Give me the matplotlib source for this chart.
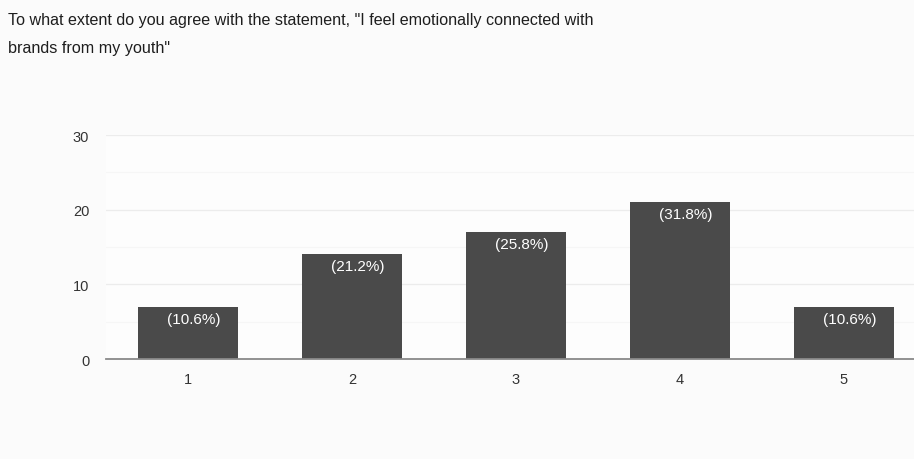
import matplotlib
matplotlib.use("Agg")
import matplotlib.pyplot as plt

categories = ["1", "2", "3", "4", "5"]
counts = [7, 14, 17, 21, 7]
pct_labels = ["(10.6%)", "(21.2%)", "(25.8%)", "(31.8%)", "(10.6%)"]
yticks = [0, 10, 20, 30]
title_lines = ['To what extent do you agree with the statement, "I feel emotionally connected with',
               'brands from my youth"']

plt.rcParams['font.family'] = ['Liberation Sans', 'DejaVu Sans']

fig = plt.figure(figsize=(9.14, 4.6), dpi=100)
fig.patch.set_facecolor('#fbfbfb')
W, H = 914, 460
left, right = 106, 926
bottom, top = 360, 136
ax = fig.add_axes([left / W, 1 - bottom / H, (right - left) / W, (bottom - top) / H])
ax.set_facecolor('#fdfdfd')

x = list(range(1, len(categories) + 1))
bars = ax.bar(x, counts, width=0.61, color='#4a4a4a', zorder=3)
ax.set_xlim(0.5, 5.5)
ax.set_ylim(0, 30)
ax.set_yticks(yticks)
ax.set_yticks([5, 15, 25], minor=True)
ax.set_xticks(x)
ax.set_xticklabels(categories)
ax.grid(axis='y', which='major', color='#ececec', linewidth=0.9, zorder=0)
ax.grid(axis='y', which='minor', color='#f6f6f6', linewidth=0.8, zorder=0)
for s in ['top', 'right', 'left']:
    ax.spines[s].set_visible(False)
ax.spines['bottom'].set_color('#8a8a8a')
ax.spines['bottom'].set_linewidth(1.3)
ax.spines['bottom'].set_zorder(4)
ax.tick_params(axis='both', which='both', length=0, labelsize=10.5, colors='#333333')
ax.tick_params(axis='y', pad=12)
ax.tick_params(axis='x', pad=9)

for xi, c, lab in zip(x, counts, pct_labels):
    ax.annotate(lab, (xi, c), xytext=(6, -12), textcoords='offset pixels',
                ha='center', va='center', color='white', fontsize=11, zorder=5)

for i, line in enumerate(title_lines):
    fig.text(8 / W, 1 - (25 + 28 * i) / H, line, ha='left', va='baseline',
             fontsize=11.6, color='#1e1e1e')

fig.savefig('out.png', dpi=100, facecolor=fig.get_facecolor())
